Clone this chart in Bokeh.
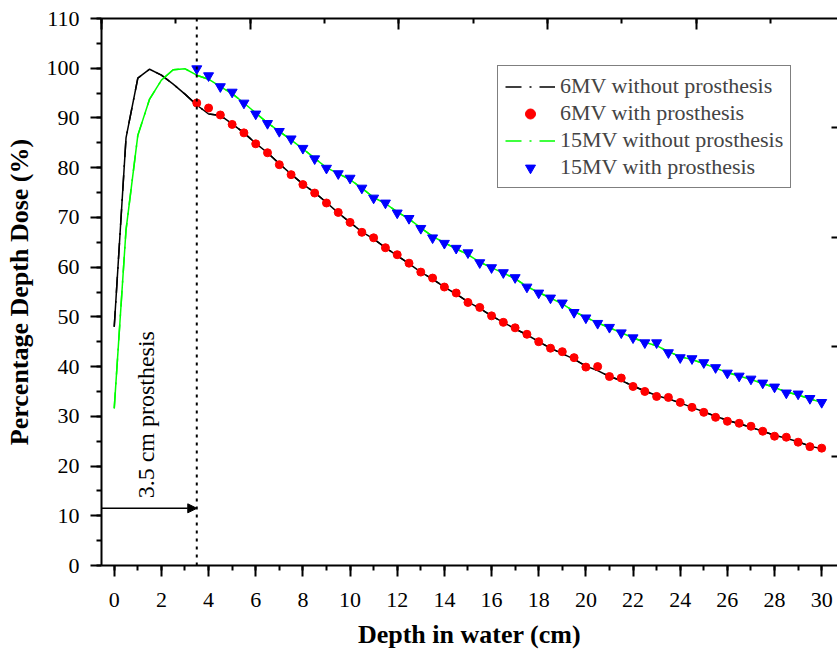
import numpy as np
from bokeh.plotting import figure
from bokeh.models import (Range1d, LinearAxis, SingleIntervalTicker, FixedTicker,
                          Legend, LegendItem, Arrow, NormalHead, Span,
                          CustomJSTickFormatter)
from bokeh.core.properties import value
from bokeh.embed import file_html
from bokeh.resources import INLINE

# ---------------- data ----------------
depth_line = [0.0, 0.5, 1.0, 1.5, 2.0, 2.5, 3.0, 3.5, 4.0, 4.5, 5.0, 5.5, 6.0, 6.5,
              7.0, 7.5, 8.0, 8.5, 9.0, 9.5, 10.0, 10.5, 11.0, 11.5, 12.0, 12.5, 13.0,
              13.5, 14.0, 14.5, 15.0, 15.5, 16.0, 16.5, 17.0, 17.5, 18.0, 18.5, 19.0,
              19.5, 20.0, 20.5, 21.0, 21.5, 22.0, 22.5, 23.0, 23.5, 24.0, 24.5, 25.0,
              25.5, 26.0, 26.5, 27.0, 27.5, 28.0, 28.5, 29.0, 29.5, 30.0]
depth_pts = depth_line[7:]

pdd_6mv_without = [48.0, 86.0, 98.0, 99.8, 98.6, 96.8, 94.8, 92.6, 90.8, 90.5,
                   88.8, 87.0, 84.9, 83.0, 80.8, 78.7, 76.7, 75.0, 73.0, 70.9,
                   69.0, 67.1, 65.7, 63.9, 62.3, 60.7, 59.0, 57.6, 56.0, 54.6,
                   53.0, 51.7, 50.2, 48.9, 47.6, 46.4, 45.0, 43.7, 42.6, 41.5,
                   40.1, 39.2, 38.0, 37.2, 36.1, 35.1, 34.2, 33.5, 32.7, 31.8,
                   30.9, 30.0, 29.2, 28.5, 27.8, 27.0, 26.2, 25.6, 24.9, 24.0,
                   23.5]
pdd_15mv_without = [31.6, 67.5, 86.5, 93.8, 97.6, 99.7, 99.9, 98.6, 97.8, 96.3,
                    94.9, 93.0, 91.0, 89.0, 87.3, 85.6, 83.8, 81.9, 80.0, 78.8,
                    77.6, 75.9, 74.0, 72.8, 71.1, 69.7, 67.9, 66.2, 64.9, 63.7,
                    62.5, 61.0, 59.9, 58.8, 57.7, 56.1, 54.9, 53.8, 52.6, 51.1,
                    49.9, 48.8, 47.8, 46.8, 45.8, 44.9, 44.2, 43.0, 42.0, 41.4,
                    40.6, 39.7, 38.8, 38.1, 37.4, 36.6, 35.8, 34.9, 34.3, 33.5,
                    32.8]
pdd_6mv_with = [93.0, 92.0, 90.6,
                88.7, 87.0, 84.8, 83.0, 80.6, 78.6, 76.6, 74.9, 72.9, 71.0,
                69.0, 67.0, 65.9, 63.9, 62.5, 60.8, 59.0, 57.8, 56.0, 54.8,
                52.9, 51.9, 50.2, 48.9, 47.8, 46.5, 45.0, 43.7, 43.0, 41.8,
                39.9, 40.0, 38.0, 37.7, 36.0, 35.0, 34.0, 33.8, 32.8, 31.8,
                30.8, 29.8, 29.0, 28.6, 28.0, 27.0, 26.0, 25.8, 24.8, 23.9,
                23.6]
pdd_15mv_with = [99.9, 98.5, 96.3,
                 95.2, 93.0, 90.8, 88.9, 87.3, 85.8, 83.9, 81.8, 79.9, 78.8,
                 77.9, 75.9, 73.9, 72.9, 70.9, 69.8, 67.8, 65.9, 64.8, 63.8,
                 62.9, 60.9, 59.9, 58.9, 57.9, 56.0, 54.8, 53.8, 52.8, 50.9,
                 49.8, 48.7, 47.9, 46.8, 45.8, 44.8, 44.8, 42.8, 41.8, 41.6,
                 40.8, 39.8, 38.7, 38.1, 37.5, 36.7, 35.9, 34.7, 34.5, 33.6,
                 32.8]

series_labels = ["6MV without prosthesis", "6MV with prosthesis",
                 "15MV without prosthesis", "15MV with prosthesis"]
prosthesis_depth = 3.5
annotation_text = ["3.5 cm prosthesis"]
annotation_x = [1.33]
annotation_y = [13.5]
arrow_y = 11.5
x_label = "Depth in water (cm)"
y_label = "Percentage Depth Dose (%)"

SERIF = "Liberation Serif"
X_START, X_END = -0.54, 30.67

# ---------------- figure ----------------
p = figure(width=837, height=655, output_backend="svg", toolbar_location=None,
           x_range=Range1d(X_START, X_END), y_range=Range1d(0, 110),
           min_border_left=101, min_border_right=0, min_border_top=18,
           min_border_bottom=90, background_fill_color="white")
p.outline_line_color = None
p.xgrid.visible = False
p.ygrid.visible = False

xa = p.xaxis[0]
xa.ticker = SingleIntervalTicker(interval=2, num_minor_ticks=2)
xa.axis_label = x_label
ya = p.yaxis[0]
ya.ticker = SingleIntervalTicker(interval=10, num_minor_ticks=2)
ya.axis_label = y_label

for ax in (xa, ya):
    ax.axis_line_width = 2
    ax.major_tick_line_width = 2
    ax.minor_tick_line_width = 2
    ax.major_tick_out = 11
    ax.major_tick_in = 0
    ax.minor_tick_out = 5
    ax.minor_tick_in = 0
    ax.major_label_text_font = SERIF
    ax.major_label_text_font_size = "22px"
    ax.major_label_text_color = "black"
    ax.axis_label_text_font = SERIF
    ax.axis_label_text_font_style = "bold"
    ax.axis_label_text_font_size = "26px"
    ax.axis_label_text_color = "black"
xa.major_label_standoff = 16
xa.axis_label_standoff = 10
ya.major_label_standoff = 11
ya.axis_label_standoff = 10

blank = CustomJSTickFormatter(code="return ''")

# top mirrored axis (inward ticks, no labels)
p.extra_x_ranges = {"top": Range1d(0, 4.95)}
ta = LinearAxis(x_range_name="top",
                ticker=SingleIntervalTicker(interval=1, num_minor_ticks=2),
                formatter=blank,
                major_tick_in=11, major_tick_out=0, minor_tick_in=5, minor_tick_out=0,
                axis_line_width=2, major_tick_line_width=2, minor_tick_line_width=2,
                major_label_standoff=0)
p.add_layout(ta, "above")

# right axis (inward ticks, no labels, spine outside the page)
p.extra_y_ranges = {"right": Range1d(0, 5)}
ra = LinearAxis(y_range_name="right", ticker=FixedTicker(ticks=[1, 2, 3, 4]),
                formatter=blank,
                major_tick_in=6, major_tick_out=0, minor_tick_in=0, minor_tick_out=0,
                axis_line_color=None, major_tick_line_width=2,
                major_label_standoff=0)
p.add_layout(ra, "right")

# ---------------- data glyphs ----------------
# dash-dot versions (used for the legend keys), hidden under the solid curves
leg_black = p.line(depth_line, pdd_6mv_without, line_color="black", line_width=1.5,
                   line_dash="16 8 2 8")
leg_green = p.line(depth_line, pdd_15mv_without, line_color="#00ff00", line_width=1.5,
                   line_dash="16 8 2 8")
p.line(depth_line, pdd_6mv_without, line_color="black", line_width=1.5)
p.line(depth_line, pdd_15mv_without, line_color="#00ff00", line_width=1.5)
r_red = p.scatter(depth_pts, pdd_6mv_with, marker="circle", size=8,
                  fill_color="#ff0000", line_color="#ff0000")
r_blue = p.scatter(depth_pts, pdd_15mv_with, marker="inverted_triangle", size=10,
                   fill_color="#0000ff", line_color="#0000ff")

# ---------------- annotations ----------------
p.add_layout(Span(location=prosthesis_depth, dimension="height", line_color="black",
                  line_width=2, line_dash="3 5"))
p.add_layout(Arrow(x_start=X_START, y_start=arrow_y, x_end=prosthesis_depth, y_end=arrow_y,
                   line_width=1.5, line_color="black",
                   end=NormalHead(size=9, fill_color="black", line_color="black")))
p.text(x=annotation_x, y=annotation_y, text=annotation_text, angle=np.pi / 2,
       text_font=value(SERIF), text_font_size="24px", text_align="left",
       text_baseline="middle", text_color="black")

# ---------------- legend ----------------
legend = Legend(items=[LegendItem(label=series_labels[0], renderers=[leg_black]),
                       LegendItem(label=series_labels[1], renderers=[r_red]),
                       LegendItem(label=series_labels[2], renderers=[leg_green]),
                       LegendItem(label=series_labels[3], renderers=[r_blue])],
                location=(396, 377), orientation="vertical",
                glyph_width=50, glyph_height=25, label_height=20, spacing=1,
                padding=7, margin=0, label_standoff=5,
                label_text_font=SERIF, label_text_font_size="22px",
                border_line_color="black", border_line_width=1.5,
                background_fill_color="white", background_fill_alpha=1.0)
p.add_layout(legend, "center")

open("out.html", "w").write(file_html(p, INLINE))
